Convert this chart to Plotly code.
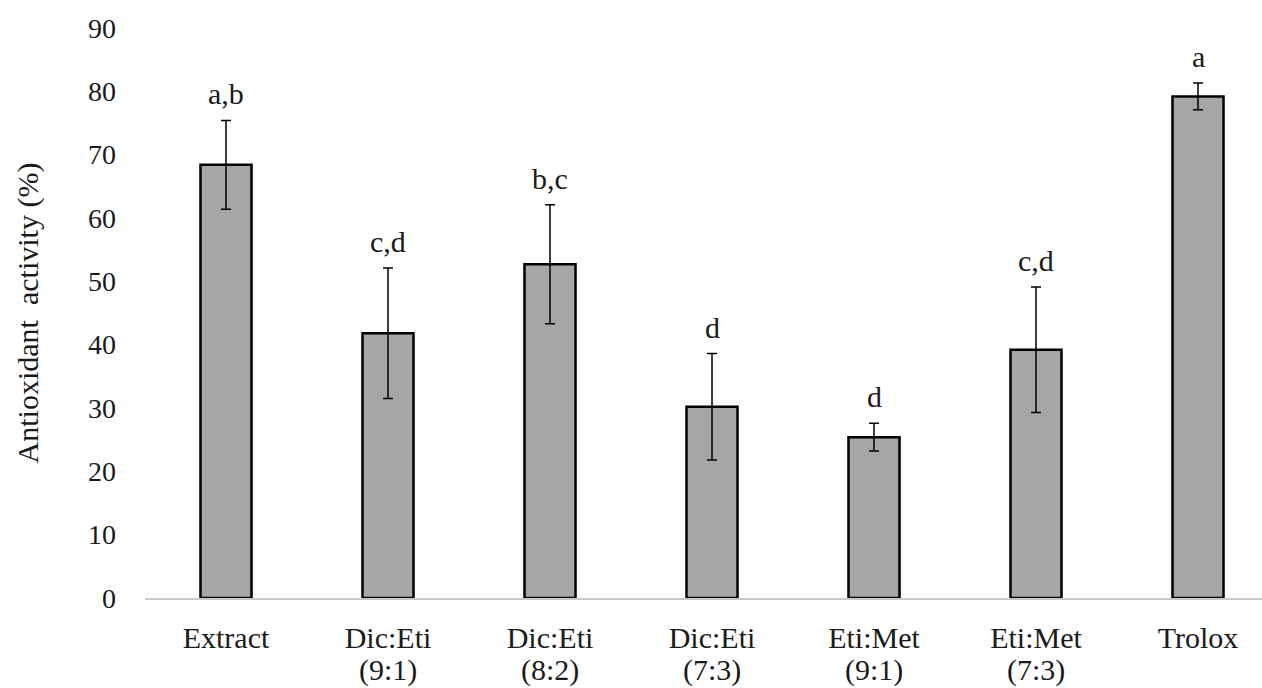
import plotly.graph_objects as go

line1 = ["Extract", "Dic:Eti", "Dic:Eti", "Dic:Eti", "Eti:Met", "Eti:Met", "Trolox"]
line2 = ["", "(9:1)", "(8:2)", "(7:3)", "(9:1)", "(7:3)", ""]
categories = [(a + " " + b).strip() for a, b in zip(line1, line2)]
means = [68.4, 41.8, 52.7, 30.2, 25.4, 39.2, 79.2]
errors = [7.0, 10.3, 9.4, 8.4, 2.2, 9.9, 2.1]
letters = ["a,b", "c,d", "b,c", "d", "d", "c,d", "a"]
yticks = [0, 10, 20, 30, 40, 50, 60, 70, 80, 90]

FONT = "Liberation Serif, Times New Roman, serif"
TXT = "#1a1a1a"

fig = go.Figure()
fig.add_trace(go.Bar(
    x=categories, y=means,
    marker=dict(color="#a6a6a6", line=dict(color="black", width=2.5)),
    width=0.315,
    error_y=dict(type="data", array=errors, visible=True, color="black",
                 thickness=1.5, width=5),
))

for c, m, e, t in zip(categories, means, errors, letters):
    fig.add_annotation(x=c, y=m + e, text=t, showarrow=False,
                       yanchor="bottom", yshift=8,
                       font=dict(family=FONT, size=30, color=TXT))

for c, t in zip(categories, line2):
    if t:
        fig.add_annotation(x=c, y=0, text=t, showarrow=False,
                           yanchor="middle", yshift=-72,
                           font=dict(family=FONT, size=30, color=TXT))

fig.update_layout(
    width=1262, height=688,
    margin=dict(l=145, r=0, t=28, b=90),
    plot_bgcolor="white", paper_bgcolor="white",
    showlegend=False,
    font=dict(family=FONT, size=30, color=TXT),
)
fig.update_xaxes(
    range=[-0.5, 6.395], showline=True, linecolor="#c8c8c8", linewidth=1.5,
    showgrid=False, ticks="", ticklabelstandoff=12,
    tickvals=categories, ticktext=line1,
    tickfont=dict(family=FONT, size=30, color=TXT),
)
fig.update_yaxes(
    range=[0, 90], tickvals=yticks, showgrid=False, zeroline=False,
    showline=False, ticks="", ticklabelstandoff=28,
    tickfont=dict(family=FONT, size=28, color=TXT),
    title=dict(text="Antioxidant  activity (%)", standoff=40,
               font=dict(family=FONT, size=30, color=TXT)),
)

fig.write_html("out.html", config={"displayModeBar": False},
               post_script="document.body.style.margin='0';document.body.style.overflow='hidden';")
